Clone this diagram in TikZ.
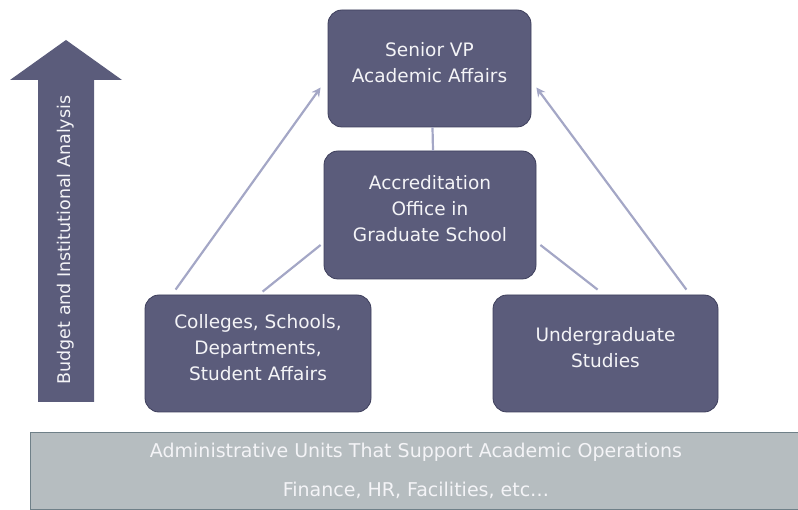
\documentclass[tikz,border=0pt]{standalone}
\usepackage{fontspec}
\setmainfont{DejaVu Sans}
\usetikzlibrary{arrows.meta}
\definecolor{boxfill}{HTML}{5B5C7B}
\definecolor{boxline}{HTML}{3E3F5C}
\definecolor{linkline}{HTML}{A4A7C6}
\definecolor{barfill}{HTML}{B6BDC0}
\definecolor{barline}{HTML}{6F8088}
\definecolor{txtwhite}{HTML}{F4F4F7}
\begin{document}
\begin{tikzpicture}[x=1pt,y=-1pt, every node/.style={font=\fontsize{18.5}{26}\selectfont}]
  \tikzstyle{unit}=[draw=boxline,fill=boxfill,rounded corners=14pt,thick,align=center,text=txtwhite,inner sep=0pt]
  \tikzstyle{link}=[draw=linkline,line width=2.2pt]
  \useasboundingbox (0,0) rectangle (798,510);
  % upward arrow on the left
  \fill[boxfill] (38,402) -- (38,80) -- (10,80) -- (66,40) -- (122,80) -- (94,80) -- (94,402) -- cycle;
  \node[rotate=90,text=txtwhite,font=\fontsize{17.5}{20}\selectfont] (budget) at (66,240) {Budget and Institutional Analysis};
  % offices
  \node[unit,minimum width=203,minimum height=117] (svp) at (429.5,68.5) {Senior VP\\Academic Affairs\\[-13pt]~};
  \node[unit,minimum width=212,minimum height=128] (acc) at (430,215) {Accreditation\\Office in\\Graduate School\\[-13pt]~};
  \node[unit,minimum width=226,minimum height=117] (col) at (258,353.5) {Colleges, Schools,\\Departments,\\Student Affairs\\[-13pt]~};
  \node[unit,minimum width=225,minimum height=117] (ugs) at (605.5,353.5) {Undergraduate\\Studies\\[-13pt]~};
  % support bar
  \node[draw=barline,fill=barfill,thick,minimum width=772,minimum height=77,align=center,text=txtwhite,font=\fontsize{19}{39}\selectfont] (admin) at (416,470.5) {Administrative Units That Support Academic Operations\\Finance, HR, Facilities, etc\ldots};
  % connectors
  \draw[link,-{Stealth[length=9pt,width=9pt]}] ([xshift=31pt,yshift=5pt]col.north west) -- ([xshift=-7pt,yshift=-19pt]svp.west);
  \draw[link,-{Stealth[length=9pt,width=9pt]}] ([xshift=-32pt,yshift=5pt]ugs.north east) -- ([xshift=5pt,yshift=-19pt]svp.east);
  \draw[link] ([xshift=118pt,yshift=3pt]col.north west) -- ([xshift=-3pt,yshift=-30pt]acc.west);
  \draw[link] ([xshift=4pt,yshift=-30pt]acc.east) -- ([xshift=105pt,yshift=5pt]ugs.north west);
  \draw[link] ([xshift=3pt]svp.south) -- ([xshift=3pt]acc.north);
\end{tikzpicture}
\end{document}
